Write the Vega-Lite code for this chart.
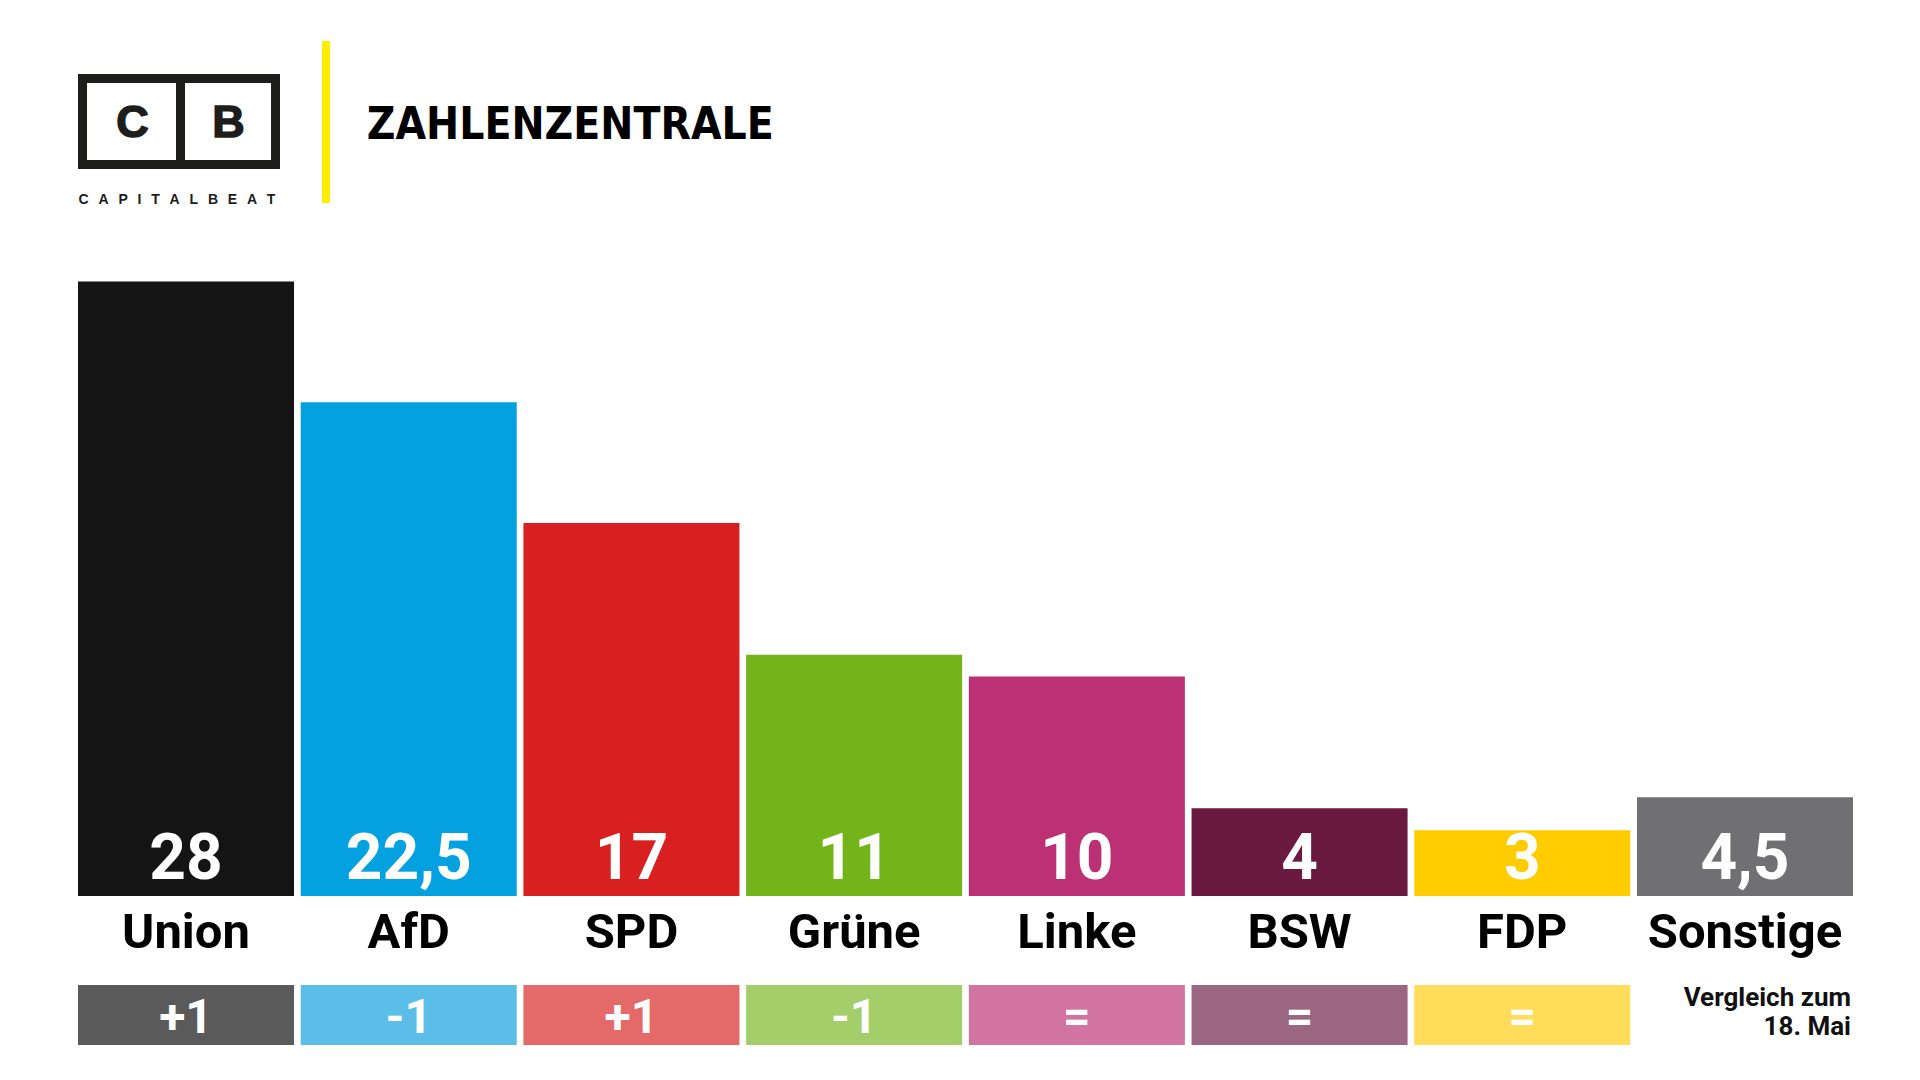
{
  "$schema": "https://vega.github.io/schema/vega-lite/v6.json",
  "width": 1920,
  "height": 1080,
  "autosize": {"type": "fit", "contains": "padding"},
  "padding": 0,
  "background": "#ffffff",
  "config": {"view": {"stroke": null}},
  "data": {
    "values": [
      {"party": "Union", "value": 28, "label": "28", "change": "+1"},
      {"party": "AfD", "value": 22.5, "label": "22,5", "change": "-1"},
      {"party": "SPD", "value": 17, "label": "17", "change": "+1"},
      {"party": "Grüne", "value": 11, "label": "11", "change": "-1"},
      {"party": "Linke", "value": 10, "label": "10", "change": "="},
      {"party": "BSW", "value": 4, "label": "4", "change": "="},
      {"party": "FDP", "value": 3, "label": "3", "change": "="},
      {"party": "Sonstige", "value": 4.5, "label": "4,5", "change": null}
    ]
  },
  "encoding": {
    "x": {
      "field": "party", "type": "nominal", "sort": null, "axis": null,
      "scale": {"domain": ["Union", "AfD", "SPD", "Grüne", "Linke", "BSW", "FDP", "Sonstige"], "range": [78, 1853], "paddingInner": 0.03, "paddingOuter": 0}
    }
  },
  "layer": [
    {
      "mark": {"type": "bar"},
      "encoding": {
        "y": {"field": "value", "type": "quantitative", "axis": null, "scale": {"domain": [0, 28], "range": [896, 281.6], "nice": false, "zero": true}},
        "y2": {"datum": 0},
        "color": {
          "field": "party", "type": "nominal", "legend": null,
          "scale": {"domain": ["Union", "AfD", "SPD", "Grüne", "Linke", "BSW", "FDP", "Sonstige"], "range": ["#141414", "#03A1DF", "#D82020", "#73B41A", "#BC3074", "#6A1940", "#FFCC00", "#707072"]}
        }
      }
    },
    {
      "mark": {"type": "text", "font": "Roboto", "fontWeight": "bold", "fontSize": 64, "color": "#ffffff", "baseline": "alphabetic", "align": "center", "dy": -17},
      "encoding": {
        "y": {"datum": 0, "type": "quantitative"},
        "text": {"field": "label"}
      }
    },
    {
      "mark": {"type": "text", "font": "Roboto", "fontWeight": "bold", "fontSize": 49, "color": "#000000", "baseline": "alphabetic", "align": "center", "dy": 52},
      "encoding": {
        "y": {"datum": 0, "type": "quantitative"},
        "text": {"field": "party"}
      }
    },
    {
      "transform": [{"filter": "datum.change != null"}],
      "mark": {"type": "bar"},
      "encoding": {
        "y": {"datum": -4.056, "type": "quantitative"},
        "y2": {"datum": -6.79},
        "fill": {
          "field": "party", "type": "nominal", "legend": null,
          "scale": {"domain": ["Union", "AfD", "SPD", "Grüne", "Linke", "BSW", "FDP"], "range": ["#5A5A5A", "#5BBEE9", "#E46A6A", "#A4CE6A", "#D274A2", "#9B6682", "#FFDC5A"]}
        }
      }
    },
    {
      "transform": [{"filter": "datum.change != null"}],
      "mark": {"type": "text", "font": "Roboto", "fontWeight": "bold", "fontSize": 48, "color": "#ffffff", "baseline": "alphabetic", "align": "center", "dy": 47.7},
      "encoding": {
        "y": {"datum": -4.056, "type": "quantitative"},
        "text": {"field": "change"}
      }
    },
    {
      "data": {"values": [{"note": "Vergleich"}]},
      "mark": {"type": "text", "font": "Roboto", "fontWeight": "bold", "fontSize": 26, "color": "#111111", "baseline": "alphabetic", "align": "right", "lineHeight": 29, "xOffset": 106},
      "encoding": {
        "x": {"datum": "Sonstige", "type": "nominal"},
        "y": {"datum": -5.0, "type": "quantitative"},
        "text": {"value": ["Vergleich zum", "18. Mai"]}
      }
    },
    {
      "data": {"values": [{"part": "left"}]},
      "mark": {"type": "bar", "fill": "#ffffff", "stroke": "#1d1d1b", "strokeWidth": 9, "width": 98, "xOffset": -54.5},
      "encoding": {
        "x": {"datum": "Union", "type": "nominal"},
        "y": {"datum": 37.256, "type": "quantitative"},
        "y2": {"datum": 33.336}
      }
    },
    {
      "data": {"values": [{"part": "right"}]},
      "mark": {"type": "bar", "fill": "#ffffff", "stroke": "#1d1d1b", "strokeWidth": 9, "width": 95, "xOffset": 42},
      "encoding": {
        "x": {"datum": "Union", "type": "nominal"},
        "y": {"datum": 37.256, "type": "quantitative"},
        "y2": {"datum": 33.336}
      }
    },
    {
      "data": {"values": [{"letter": "C"}]},
      "mark": {"type": "text", "font": "Liberation Sans", "fontWeight": "bold", "fontSize": 45, "color": "#1d1d1b", "baseline": "alphabetic", "align": "center", "xOffset": -53.4, "stroke": "#1d1d1b", "strokeWidth": 1.5},
      "encoding": {
        "x": {"datum": "Union", "type": "nominal"},
        "y": {"datum": 34.576, "type": "quantitative"},
        "text": {"field": "letter"}
      }
    },
    {
      "data": {"values": [{"letter": "B"}]},
      "mark": {"type": "text", "font": "Liberation Sans", "fontWeight": "bold", "fontSize": 45, "color": "#1d1d1b", "baseline": "alphabetic", "align": "center", "xOffset": 42.5, "stroke": "#1d1d1b", "strokeWidth": 1.5},
      "encoding": {
        "x": {"datum": "Union", "type": "nominal"},
        "y": {"datum": 34.576, "type": "quantitative"},
        "text": {"field": "letter"}
      }
    },
    {
      "data": {"values": [{"brand": "CAPITALBEAT"}]},
      "mark": {"type": "text", "font": "Liberation Sans", "fontWeight": "bold", "fontSize": 14, "color": "#1d1d1b", "baseline": "alphabetic", "align": "center", "xOffset": -9},
      "encoding": {
        "x": {"datum": "Union", "type": "nominal"},
        "y": {"datum": 31.536, "type": "quantitative"},
        "text": {"value": "C\u2002\u2009A\u2002\u2009P\u2002\u2009I\u2002\u2009T\u2002\u2009A\u2002\u2009L\u2002\u2009B\u2002\u2009E\u2002\u2009A\u2002\u2009T"}
      }
    },
    {
      "data": {"values": [{"deco": "line"}]},
      "mark": {"type": "rule", "stroke": "#FFEE00", "strokeWidth": 8, "xOffset": 140},
      "encoding": {
        "x": {"datum": "Union", "type": "nominal"},
        "y": {"datum": 38.965, "type": "quantitative"},
        "y2": {"datum": 31.582}
      }
    },
    {
      "data": {"values": [{"title": "ZAHLENZENTRALE"}]},
      "mark": {"type": "text", "font": "DejaVu Sans Condensed", "fontWeight": "bold", "fontSize": 44, "color": "#000000", "baseline": "alphabetic", "align": "left", "xOffset": -42},
      "encoding": {
        "x": {"datum": "AfD", "type": "nominal"},
        "y": {"datum": 34.485, "type": "quantitative"},
        "text": {"field": "title"}
      }
    }
  ]
}
